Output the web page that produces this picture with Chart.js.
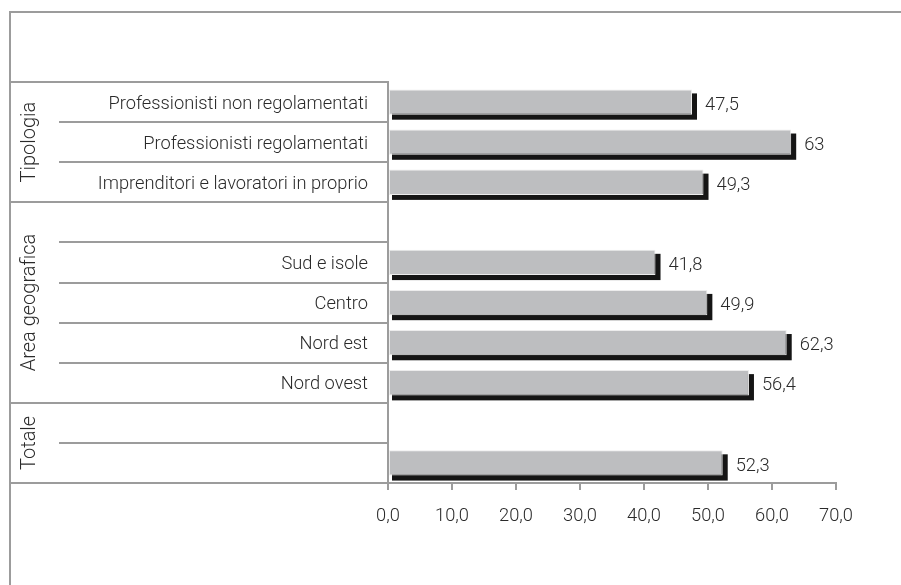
<!DOCTYPE html>
<html>
<head>
<meta charset="utf-8">
<script src="https://cdn.jsdelivr.net/npm/chart.js@4/dist/chart.umd.min.js"></script>
<style>
  html, body { margin: 0; padding: 0; background: #fff; }
  #wrap { position: relative; width: 901px; height: 585px; }
  #frame { position: absolute; left: 9px; top: 11px; right: 0; bottom: 0;
           border-top: 2px solid #9c9c9c; border-left: 2px solid #9c9c9c; pointer-events: none; }
  canvas { position: absolute; left: 0; top: 0; }
</style>
</head>
<body>
<div id="wrap">
  <canvas id="chart" width="901" height="585"></canvas>
  <div id="frame"></div>
</div>
<script>
// Row labels, top to bottom (blank rows separate the groups)
const categories = [
  'Professionisti non regolamentati',
  'Professionisti regolamentati',
  'Imprenditori e lavoratori in proprio',
  '',
  'Sud e isole',
  'Centro',
  'Nord est',
  'Nord ovest',
  '',
  ''
];
const values = [47.5, 63, 49.3, null, 41.8, 49.9, 62.3, 56.4, null, 52.3];

// Groups of rows, labelled vertically on the left
const groupNames = ['Tipologia', 'Area geografica', 'Totale'];
const groupFirst = [0, 3, 8];
const groupLast = [2, 7, 9];

// Value axis
const axisMin = 0;
const axisMax = 70;
const axisStep = 10;

const FONT = 'Roboto, "Open Sans", sans-serif';
const WEIGHT = 300;
const SIZE = 18.3;
const GROUP_SIZE = 20;
const TEXT = '#2a2a2a';
const LINE = '#9c9c9c';

const fmt = v => String(v).replace('.', ',');

// Black drop shadow behind each bar
const barShadow = {
  id: 'barShadow',
  beforeDatasetDraw(chart, args) {
    if (args.index !== 0) return;
    const ctx = chart.ctx;
    ctx.save();
    ctx.fillStyle = '#151515';
    args.meta.data.forEach((bar, i) => {
      if (values[i] == null) return;
      const p = bar.getProps(['x', 'y', 'base', 'height'], true);
      const top = p.y - p.height / 2, bottom = p.y + p.height / 2;
      ctx.fillRect(p.base + 3, top + 4, (p.x + 5) - (p.base + 3), (bottom + 5) - (top + 4));
    });
    ctx.restore();
  }
};

// Value labels at the end of each bar
const valueLabels = {
  id: 'valueLabels',
  afterDatasetsDraw(chart) {
    const ctx = chart.ctx;
    const meta = chart.getDatasetMeta(0);
    ctx.save();
    ctx.font = WEIGHT + ' ' + SIZE + 'px ' + FONT;
    ctx.fillStyle = TEXT;
    ctx.textAlign = 'left';
    ctx.textBaseline = 'middle';
    meta.data.forEach((bar, i) => {
      if (values[i] == null) return;
      const p = bar.getProps(['x', 'y'], true);
      ctx.fillText(fmt(values[i]), p.x + 13, p.y + 3);
    });
    ctx.restore();
  }
};

// Table rules and group titles in the label column
const labelTable = {
  id: 'labelTable',
  afterDraw(chart) {
    const ctx = chart.ctx;
    const ys = chart.scales.y;
    const right = chart.chartArea.left;
    const outer = 10, inner = 59;
    const n = categories.length;
    const edge = k => {
      if (k === 0) return ys.getPixelForValue(0) - (ys.getPixelForValue(1) - ys.getPixelForValue(0)) / 2;
      if (k === n) return ys.getPixelForValue(n - 1) + (ys.getPixelForValue(n - 1) - ys.getPixelForValue(n - 2)) / 2;
      return (ys.getPixelForValue(k - 1) + ys.getPixelForValue(k)) / 2;
    };
    const groupEdges = new Set();
    groupFirst.forEach(g => groupEdges.add(g));
    groupLast.forEach(g => groupEdges.add(g + 1));
    ctx.save();
    ctx.strokeStyle = LINE;
    ctx.lineWidth = 2;
    for (let k = 0; k <= n; k++) {
      const y = Math.round(edge(k));
      ctx.beginPath();
      ctx.moveTo(groupEdges.has(k) ? outer : inner, y);
      ctx.lineTo(right, y);
      ctx.stroke();
    }
    ctx.fillStyle = TEXT;
    ctx.font = WEIGHT + ' ' + GROUP_SIZE + 'px ' + FONT;
    ctx.textAlign = 'center';
    ctx.textBaseline = 'middle';
    groupNames.forEach((name, g) => {
      const yc = (edge(groupFirst[g]) + edge(groupLast[g] + 1)) / 2;
      ctx.save();
      ctx.translate(30, yc);
      ctx.rotate(-Math.PI / 2);
      ctx.fillText(name, 0, 0);
      ctx.restore();
    });
    ctx.restore();
  }
};

new Chart(document.getElementById('chart'), {
  type: 'bar',
  data: {
    labels: categories,
    datasets: [{
      data: values,
      backgroundColor: '#bdbec0',
      borderColor: '#ececec',
      borderWidth: 1,
      borderSkipped: false,
      barPercentage: 0.63,
      categoryPercentage: 1
    }]
  },
  options: {
    indexAxis: 'y',
    responsive: false,
    animation: false,
    layout: { padding: { left: 10, top: 82, right: 65, bottom: 42 } },
    plugins: { legend: { display: false }, tooltip: { enabled: false } },
    scales: {
      x: {
        min: axisMin,
        max: axisMax,
        ticks: {
          stepSize: axisStep,
          color: TEXT,
          font: { family: FONT, size: SIZE, weight: WEIGHT },
          padding: 15,
          callback: v => v.toFixed(1).replace('.', ',')
        },
        grid: { drawOnChartArea: false, tickLength: 7, color: LINE, lineWidth: 2 },
        border: { display: true, color: LINE, width: 2 },
        afterFit: s => { s.height = 60; }
      },
      y: {
        ticks: {
          color: TEXT,
          font: { family: FONT, size: SIZE, weight: WEIGHT },
          padding: 12,
          labelOffset: 2,
          autoSkip: false
        },
        grid: { display: false },
        border: { display: true, color: LINE, width: 2 },
        afterFit: s => { s.width = 378; }
      }
    }
  },
  plugins: [barShadow, valueLabels, labelTable]
});
</script>
</body>
</html>
